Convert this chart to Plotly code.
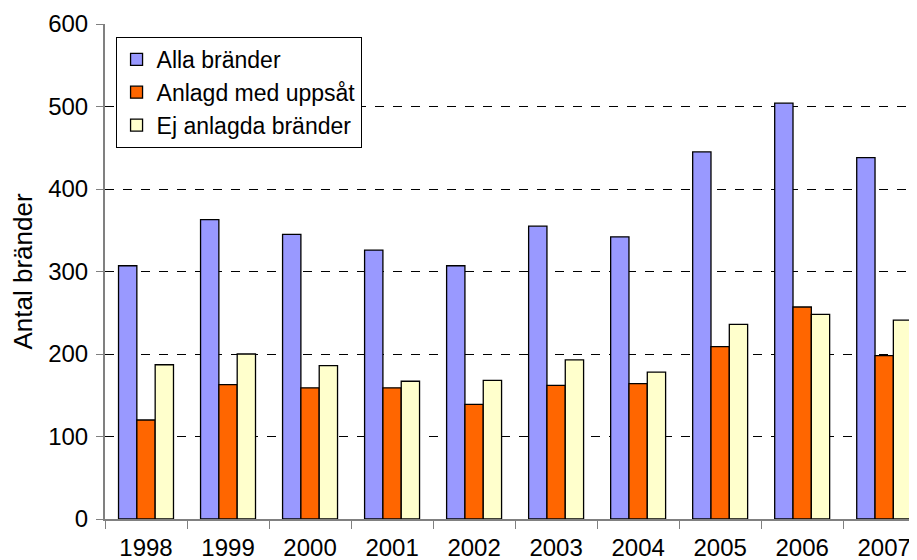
import plotly.graph_objects as go

years = ["1998", "1999", "2000", "2001", "2002", "2003", "2004", "2005", "2006", "2007"]
alla = [307, 363, 345, 326, 307, 355, 342, 445, 504, 438]
anlagd = [120, 163, 159, 159, 139, 162, 164, 209, 257, 198]
ej_anlagda = [187, 200, 186, 167, 168, 193, 178, 236, 248, 241]

series = [
    ("Alla bränder", alla, "#9999FF"),
    ("Anlagd med uppsåt", anlagd, "#FF6600"),
    ("Ej anlagda bränder", ej_anlagda, "#FFFFCC"),
]

fig = go.Figure()
for name, vals, col in series:
    fig.add_trace(go.Bar(
        x=years, y=vals, name=name,
        marker=dict(color=col, line=dict(color="black", width=1.3)),
    ))

# page body has an 8px margin, so the figure is shrunk and margins reduced accordingly
fig.update_layout(
    width=909, height=552,
    margin=dict(l=97, r=0, t=16, b=41),
    paper_bgcolor="white", plot_bgcolor="white",
    barmode="group", bargap=0.33, bargroupgap=0,
    font=dict(family="Arial, Liberation Sans, sans-serif", size=24, color="black"),
    showlegend=True,
    legend=dict(
        x=0.013, y=0.974, xanchor="left", yanchor="top",
        bgcolor="white", bordercolor="black", borderwidth=1,
        font=dict(size=23), itemwidth=30, tracegroupgap=0,
    ),
    xaxis=dict(
        type="category", range=[-0.5, 9.4],
        showline=True, linecolor="#808080", linewidth=2,
        ticks="outside", tickson="boundaries", ticklen=8, tickcolor="#808080",
        showgrid=False, tickfont=dict(size=24), ticklabelstandoff=6,
    ),
    yaxis=dict(
        range=[0, 600], dtick=100,
        showline=True, linecolor="#808080", linewidth=2,
        ticks="outside", ticklen=7, tickcolor="#808080",
        showgrid=True, gridcolor="black", griddash="dash", gridwidth=1,
        zeroline=False, tickfont=dict(size=24), ticklabelstandoff=3,
        title=dict(text="Antal bränder", font=dict(size=26), standoff=8),
    ),
)

fig.write_html("out.html")
